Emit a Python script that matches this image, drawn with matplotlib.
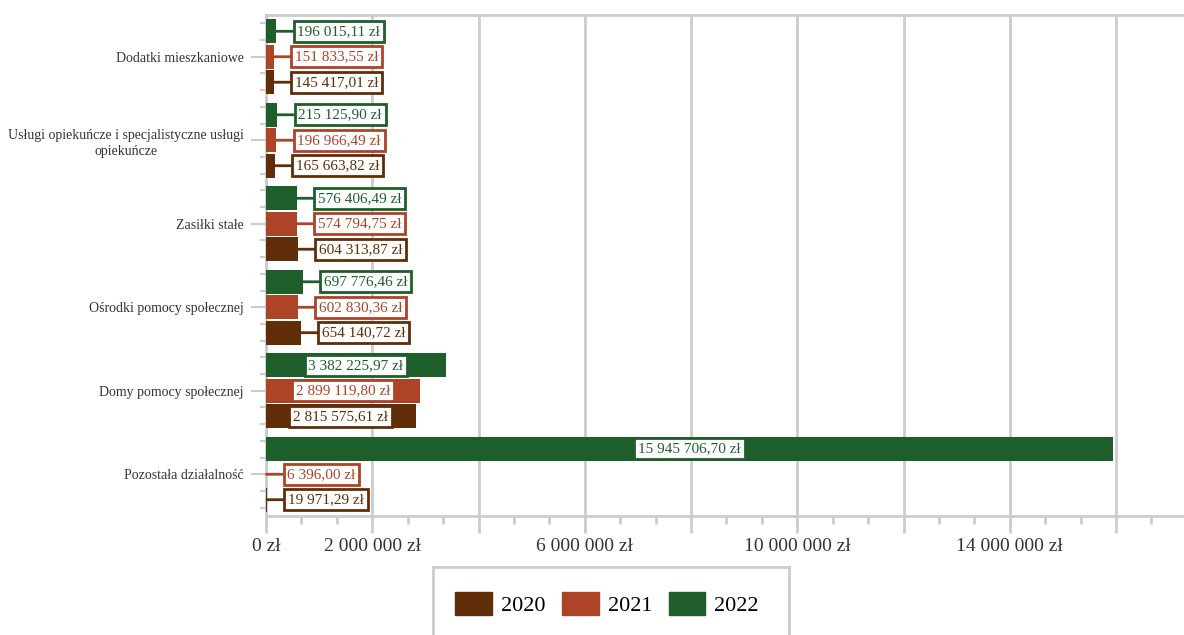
import matplotlib.pyplot as plt
import numpy as np
from matplotlib.patches import Patch, Rectangle
from matplotlib.ticker import AutoMinorLocator, MultipleLocator

plt.rcParams['font.family'] = ['Liberation Serif', 'DejaVu Serif']

categories = ["Dodatki mieszkaniowe",
              "Usługi opiekuńcze i specjalistyczne usługi\nopiekuńcze",
              "Zasiłki stałe",
              "Ośrodki pomocy społecznej",
              "Domy pomocy społecznej",
              "Pozostała działalność"]
years = ["2020", "2021", "2022"]
v2020 = [145417.01, 165663.82, 604313.87, 654140.72, 2815575.61, 19971.29]
v2021 = [151833.55, 196966.49, 574794.75, 602830.36, 2899119.80, 6396.00]
v2022 = [196015.11, 215125.90, 576406.49, 697776.46, 3382225.97, 15945706.70]
xtick_vals = [0, 2e6, 4e6, 6e6, 8e6, 10e6, 12e6, 14e6, 16e6]
xtick_text = ["0 zł", "2 000 000 zł", "", "6 000 000 zł", "", "10 000 000 zł", "", "14 000 000 zł", ""]

colors = {"2020": "#5f2d07", "2021": "#ad4327", "2022": "#1e5e2b"}
grid = "#cccccc"


def money(v):
    s = f"{v:,.2f}".replace(",", " ").replace(".", ",")
    return s + " zł"


fig = plt.figure(figsize=(11.84, 6.35), dpi=100)
ax = fig.add_axes([266 / 1184, 1 - 516 / 635, 1 - 266 / 1184, (516 - 15) / 635])

y = np.arange(len(categories))
h = 0.29
offsets = {"2022": -0.305, "2021": 0.0, "2020": 0.305}
series = {"2020": v2020, "2021": v2021, "2022": v2022}

for yr in years:
    vals = series[yr]
    c = colors[yr]
    ax.barh(y + offsets[yr], vals, height=h, color=c, zorder=3)
    for yi, v in zip(y, vals):
        yy = yi + offsets[yr]
        box = dict(boxstyle="square,pad=0.25", fc="white", ec=c, lw=2)
        if v > 1.5e6:
            ax.text(v / 2, yy, money(v), ha="center", va="center", fontsize=11,
                    color=c, bbox=box, zorder=5)
        else:
            ax.annotate(money(v), xy=(v, yy), xytext=(21, 0), textcoords="offset pixels",
                        ha="left", va="center", fontsize=11, color=c, bbox=box, zorder=5,
                        arrowprops=dict(arrowstyle="-", color=c, lw=2, shrinkA=0, shrinkB=0))

ax.set_xlim(0, 17.28e6)
ax.set_ylim(5.5, -0.5)
ax.set_xticks(xtick_vals)
ax.set_xticklabels(xtick_text, fontsize=14, color="#333333")
ax.xaxis.set_minor_locator(AutoMinorLocator(3))
ax.set_yticks(y)
ax.set_yticklabels(categories, fontsize=10, color="#333333", multialignment="center",
                   linespacing=1.35)
ax.yaxis.set_minor_locator(MultipleLocator(0.2))

ax.grid(axis="x", color=grid, lw=2, zorder=0)
ax.tick_params(axis="x", which="major", length=12, width=2, color=grid, pad=4)
ax.tick_params(axis="x", which="minor", length=6, width=2, color=grid)
ax.tick_params(axis="y", which="major", length=11, width=1.5, color=grid, pad=5)
ax.tick_params(axis="y", which="minor", length=4, width=1.5, color=grid)
for s in ["left", "bottom", "top"]:
    ax.spines[s].set_color(grid)
    ax.spines[s].set_linewidth(2)
ax.spines["right"].set_visible(False)

# legend frame runs off the bottom edge
fig.patches.append(Rectangle((433 / 1184, -0.05), (789 - 433) / 1184, 0.05 + (635 - 567) / 635,
                             transform=fig.transFigure, fc="white", ec=grid, lw=2))
handles = [Patch(fc=colors[yr], ec=colors[yr], label=yr) for yr in years]
fig.legend(handles=handles, loc="center", bbox_to_anchor=(607 / 1184, 1 - 604 / 635),
           ncol=3, frameon=False, fontsize=16, handlelength=1.65, handleheight=1.2,
           handletextpad=0.4, columnspacing=0.75)

fig.savefig("out.png", dpi=100)
